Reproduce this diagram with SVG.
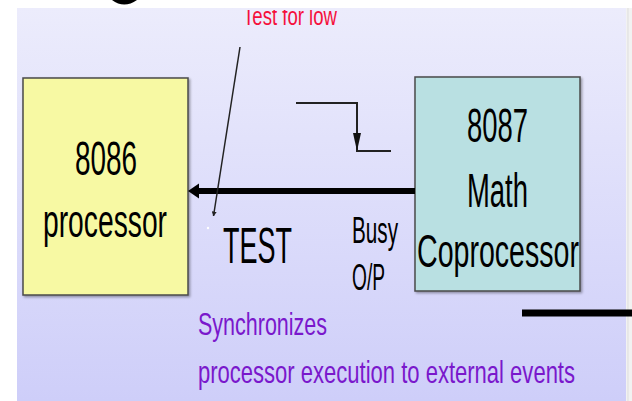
<svg xmlns="http://www.w3.org/2000/svg" width="632" height="401" viewBox="0 0 632 401">
<style>
.t{font-family:"Liberation Sans",Arial,sans-serif;fill:#000}
.box{stroke:#4a4a4a;stroke-width:1.5}
.conn{fill:none;stroke:#222}
</style>
<defs>
<linearGradient id="bg" x1="0" y1="0" x2="0" y2="1">
<stop offset="0" stop-color="#ececfc"/>
<stop offset="1" stop-color="#cecef9"/>
</linearGradient>
<filter id="sh" x="-10%" y="-10%" width="130%" height="130%">
<feDropShadow dx="1.5" dy="1.5" stdDeviation="1" flood-color="#000" flood-opacity="0.35"/>
</filter>
<clipPath id="panel"><rect x="17" y="10" width="609" height="391"/></clipPath>
<marker id="ah" viewBox="0 0 10 10" refX="9" refY="5" markerWidth="5" markerHeight="5" markerUnits="userSpaceOnUse" orient="auto">
<path d="M0,0 L10,5 L0,10 Z" fill="#222"/>
</marker>
</defs>
<rect width="632" height="401" fill="#fff"/>
<rect x="626" y="8" width="6" height="393" fill="#f2f2f2"/>
<line x1="628" y1="8" x2="628" y2="401" stroke="#ddd" stroke-width="1"/>
<rect x="17" y="8" width="609" height="393" fill="url(#bg)"/>
<path d="M112,0 Q124,9 137,0 Z" fill="#000"/>

<g clip-path="url(#panel)">
<text class="t" x="243" y="25" font-size="25" textLength="94" lengthAdjust="spacingAndGlyphs" style="fill:#f5103c">Test for low</text>
</g>

<g id="processor8086">
<rect class="box" x="23" y="78" width="165" height="217" fill="#f7f9a3" filter="url(#sh)"/>
<text class="t" x="75" y="175" font-size="48" textLength="62" lengthAdjust="spacingAndGlyphs">8086</text>
<text class="t" x="43" y="237" font-size="47" textLength="124" lengthAdjust="spacingAndGlyphs">processor</text>
</g>

<g id="coprocessor8087">
<rect class="box" x="415" y="77" width="165" height="214" fill="#b9e0e2" filter="url(#sh)"/>
<text class="t" x="467" y="142" font-size="48" textLength="61" lengthAdjust="spacingAndGlyphs">8087</text>
<text class="t" x="467" y="207" font-size="48" textLength="61" lengthAdjust="spacingAndGlyphs">Math</text>
<text class="t" x="417" y="267" font-size="47" textLength="162" lengthAdjust="spacingAndGlyphs">Coprocessor</text>
</g>

<g id="connectors">
<line x1="415" y1="191" x2="196" y2="191" stroke="#000" stroke-width="6"/>
<path d="M188,191 L199,183.5 L199,198.5 Z" fill="#000"/>
<path class="conn" d="M240,47 L213.5,216" stroke-width="1.5" marker-end="url(#ah)"/>
<path class="conn" d="M296,103 H357 V151 H391" stroke-width="2"/>
<path d="M357,151 L353,133 L361,133 Z" fill="#111"/>
<line x1="522" y1="313" x2="632" y2="313" stroke="#000" stroke-width="7"/>
</g>

<g id="labels">
<circle cx="208" cy="228" r="1.2" fill="#fff"/>
<text class="t" x="223" y="263" font-size="50" textLength="69" lengthAdjust="spacingAndGlyphs">TEST</text>
<text class="t" x="352" y="243" font-size="37" textLength="46" lengthAdjust="spacingAndGlyphs">Busy</text>
<text class="t" x="352" y="290" font-size="37" textLength="33" lengthAdjust="spacingAndGlyphs">O/P</text>
<text class="t" x="198" y="335" font-size="32" textLength="129" lengthAdjust="spacingAndGlyphs" style="fill:#7a18cc">Synchronizes</text>
<text class="t" x="198" y="383" font-size="32" textLength="377" lengthAdjust="spacingAndGlyphs" style="fill:#7a18cc">processor execution to external events</text>
</g>
</svg>
